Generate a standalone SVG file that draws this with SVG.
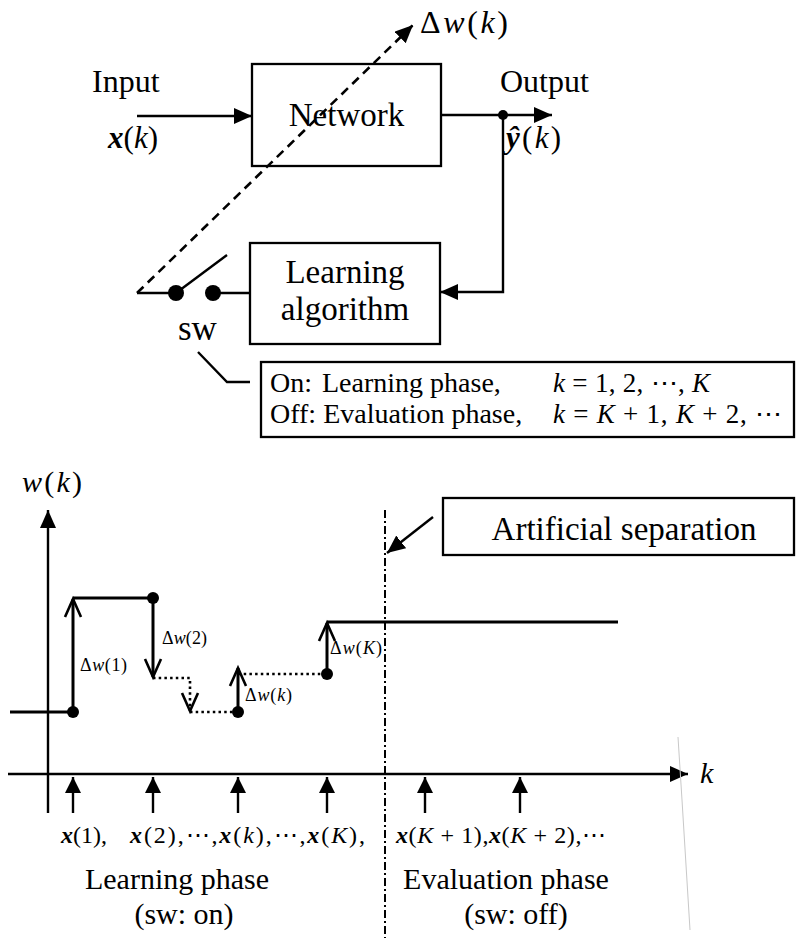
<svg xmlns="http://www.w3.org/2000/svg" width="796" height="938" viewBox="0 0 796 938">
<style>
  .t { font-family: "Liberation Serif", "Times New Roman", serif; fill: #000; }
  .m { font-family: "Liberation Serif", "DejaVu Serif", serif; fill: #000; }
  .i { font-style: italic; }
  .b { font-style: italic; font-weight: bold; }
  .box { fill: #fff; stroke: #000; stroke-width: 2.3; }
  .ln { fill: none; stroke: #000; stroke-width: 2.4; }
  .th { fill: none; stroke: #000; stroke-width: 3; }
  .dot { fill: none; stroke: #000; stroke-width: 2.6; stroke-dasharray: 2.5 3.2; }
  .dash { fill: none; stroke: #000; stroke-width: 2.6; stroke-dasharray: 9 6; }
  .dd { fill: none; stroke: #000; stroke-width: 2; stroke-dasharray: 8 3 2 3; }
</style>
<defs>
  <marker id="fa" markerUnits="userSpaceOnUse" markerWidth="20" markerHeight="18" refX="18" refY="8" orient="auto" viewBox="0 0 20 18">
    <path d="M0,0 L18,8 L0,16 z" fill="#000"/>
  </marker>
  <marker id="fs" markerUnits="userSpaceOnUse" markerWidth="18" markerHeight="18" refX="16" refY="8" orient="auto" viewBox="0 0 18 18">
    <path d="M0,0 L16,8 L0,16 z" fill="#000"/>
  </marker>
  <marker id="oa" markerUnits="userSpaceOnUse" markerWidth="24" markerHeight="22" refX="19" refY="10" orient="auto" viewBox="0 0 24 22">
    <path d="M1,2 L19,10 L1,18" fill="none" stroke="#000" stroke-width="2.6"/>
  </marker>
</defs>

<!-- ===== Top block diagram ===== -->
<g id="network">
  <rect class="box" x="252" y="64" width="189" height="102"/>
  <text class="t" x="346.5" y="126" font-size="33" text-anchor="middle">Network</text>
</g>
<g id="learning-algorithm">
  <rect class="box" x="250" y="243" width="190" height="101"/>
  <text class="t" x="345" y="283" font-size="33" text-anchor="middle">Learning</text>
  <text class="t" x="345" y="320" font-size="33" text-anchor="middle">algorithm</text>
</g>
<g id="input-label">
  <text class="t" x="92" y="92" font-size="32">Input</text>
  <text class="m" x="108" y="148" font-size="31" textLength="50" lengthAdjust="spacing"><tspan class="b">x</tspan>(<tspan class="i">k</tspan>)</text>
</g>
<g id="output-label">
  <text class="t" x="500" y="92" font-size="32">Output</text>
  <text class="m" x="506" y="148" font-size="31" textLength="55" lengthAdjust="spacing"><tspan class="b">ŷ</tspan>(<tspan class="i">k</tspan>)</text>
</g>
<g id="dw-label">
  <text class="m" x="420" y="33" font-size="32" textLength="88" lengthAdjust="spacing">Δ<tspan class="i">w</tspan>(<tspan class="i">k</tspan>)</text>
</g>
<g id="switch">
  <circle cx="176" cy="293" r="8" fill="#000"/>
  <circle cx="213" cy="293" r="8" fill="#000"/>
  <text class="t" x="178" y="340" font-size="35">sw</text>
</g>
<g id="sw-modes">
  <rect class="box" x="261" y="362" width="533" height="75"/>
  <text class="t" x="270" y="392" font-size="28">On:</text>
  <text class="t" x="322" y="392" font-size="28">Learning phase,</text>
  <text class="m" x="553" y="392" font-size="27" textLength="157" lengthAdjust="spacing"><tspan class="i">k</tspan> = 1, 2, ⋯, <tspan class="i">K</tspan></text>
  <text class="t" x="270" y="423" font-size="28">Off: Evaluation phase,</text>
  <text class="m" x="553" y="423" font-size="27" textLength="229" lengthAdjust="spacing"><tspan class="i">k</tspan> = <tspan class="i">K</tspan> + 1, <tspan class="i">K</tspan> + 2, ⋯</text>
</g>

<g id="connectors-top">
  <line class="ln" x1="137" y1="116" x2="252" y2="116" marker-end="url(#fa)"/>
  <line class="ln" x1="441" y1="115" x2="552" y2="115" marker-end="url(#fa)"/>
  <circle cx="503" cy="115" r="5" fill="#000"/>
  <polyline class="ln" points="503,115 503,292 440,292" marker-end="url(#fa)"/>
  <line class="ln" x1="250" y1="293" x2="213" y2="293"/>
  <line class="ln" x1="176" y1="293" x2="137" y2="293"/>
  <line class="ln" x1="176" y1="293" x2="227" y2="255"/>
  <line class="dash" x1="137" y1="293" x2="413" y2="25" marker-end="url(#fa)"/>
  <polyline class="ln" points="198,352 227,382 250,382"/>
</g>

<!-- ===== Bottom graph ===== -->
<g id="axes">
  <line class="ln" x1="48" y1="813" x2="48" y2="510" marker-end="url(#fa)"/>
  <line class="ln" x1="8" y1="774" x2="688" y2="774" marker-end="url(#fa)"/>
  <text class="m" x="22" y="492" font-size="30" textLength="60" lengthAdjust="spacing"><tspan class="i">w</tspan>(<tspan class="i">k</tspan>)</text>
  <text class="m i" x="700" y="783" font-size="30">k</text>
</g>

<g id="weight-trajectory">
  <line class="th" x1="10" y1="712" x2="73" y2="712"/>
  <line class="th" x1="73" y1="598" x2="153" y2="598"/>
  <line class="th" x1="327" y1="622" x2="618" y2="622"/>
  <line class="th" x1="73" y1="712" x2="73" y2="599" marker-end="url(#oa)"/>
  <line class="th" x1="153" y1="598" x2="153" y2="677" marker-end="url(#oa)"/>
  <polyline class="dot" points="153,678 190,678 190,711" marker-end="url(#oa)"/>
  <line class="dot" x1="190" y1="712" x2="238" y2="712"/>
  <line class="th" x1="238" y1="712" x2="238" y2="668" marker-end="url(#oa)"/>
  <line class="dot" x1="238" y1="674" x2="327" y2="674"/>
  <line class="th" x1="327" y1="674" x2="327" y2="623" marker-end="url(#oa)"/>
  <circle cx="73" cy="712" r="6" fill="#000"/>
  <circle cx="153" cy="598" r="6" fill="#000"/>
  <circle cx="238" cy="712" r="6" fill="#000"/>
  <circle cx="327" cy="674" r="6" fill="#000"/>
  <text class="m" x="80" y="671" font-size="18" textLength="47" lengthAdjust="spacing">Δ<tspan class="i">w</tspan>(1)</text>
  <text class="m" x="162" y="644" font-size="18" textLength="45" lengthAdjust="spacing">Δ<tspan class="i">w</tspan>(2)</text>
  <text class="m" x="245" y="701" font-size="18" textLength="47" lengthAdjust="spacing">Δ<tspan class="i">w</tspan>(<tspan class="i">k</tspan>)</text>
  <text class="m" x="330" y="654" font-size="18" textLength="52" lengthAdjust="spacing">Δ<tspan class="i">w</tspan>(<tspan class="i">K</tspan>)</text>
</g>

<g id="inputs">
  <line class="ln" x1="73" y1="813" x2="73" y2="777" marker-end="url(#fs)"/>
  <line class="ln" x1="153" y1="813" x2="153" y2="777" marker-end="url(#fs)"/>
  <line class="ln" x1="238" y1="813" x2="238" y2="777" marker-end="url(#fs)"/>
  <line class="ln" x1="327" y1="813" x2="327" y2="777" marker-end="url(#fs)"/>
  <line class="ln" x1="425" y1="813" x2="425" y2="777" marker-end="url(#fs)"/>
  <line class="ln" x1="520" y1="813" x2="520" y2="777" marker-end="url(#fs)"/>
  <text class="m" x="61" y="843" font-size="24" textLength="46" lengthAdjust="spacing"><tspan class="b">x</tspan>(1),</text>
  <text class="m" x="130" y="843" font-size="24" textLength="235" lengthAdjust="spacing"><tspan class="b">x</tspan>(2),⋯,<tspan class="b">x</tspan>(<tspan class="i">k</tspan>),⋯,<tspan class="b">x</tspan>(<tspan class="i">K</tspan>),</text>
  <text class="m" x="396" y="843" font-size="24" textLength="210" lengthAdjust="spacing"><tspan class="b">x</tspan>(<tspan class="i">K</tspan> + 1),<tspan class="b">x</tspan>(<tspan class="i">K</tspan> + 2),⋯</text>
</g>

<g id="separation">
  <line class="dd" x1="385" y1="510" x2="385" y2="938"/>
  <rect class="box" x="443" y="498" width="351" height="57"/>
  <text class="t" x="624" y="540" font-size="33" text-anchor="middle">Artificial separation</text>
  <line class="ln" x1="433" y1="517" x2="387" y2="553" marker-end="url(#fa)"/>
</g>

<g id="phase-labels">
  <text class="t" x="177" y="889" font-size="30" text-anchor="middle">Learning phase</text>
  <text class="t" x="184" y="924" font-size="30" text-anchor="middle">(sw: on)</text>
  <text class="t" x="506" y="889" font-size="30" text-anchor="middle">Evaluation phase</text>
  <text class="t" x="516" y="924" font-size="30" text-anchor="middle">(sw: off)</text>
</g>

<path d="M678,737 L682,800 L690,930" fill="none" stroke="#c8c8c8" stroke-width="1"/>
</svg>
